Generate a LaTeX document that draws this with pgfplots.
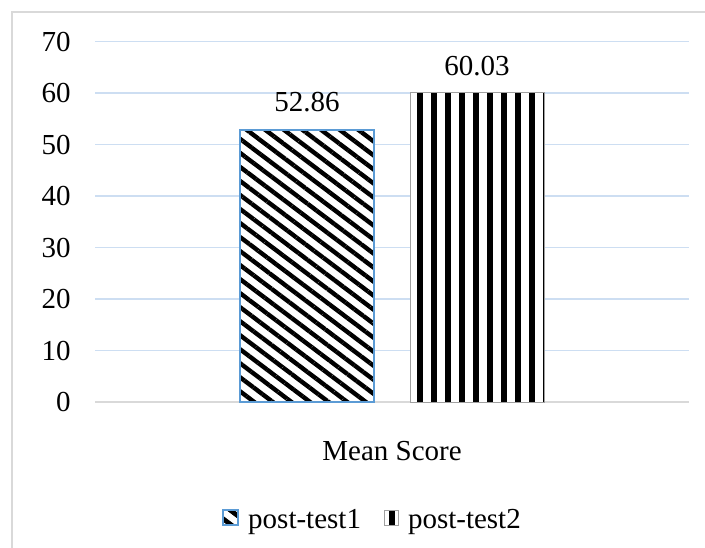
\documentclass[border=0pt]{standalone}
\usepackage{fontspec}
\setmainfont{Liberation Serif}
\usepackage{pgfplots}
\pgfplotsset{compat=1.18}
\usetikzlibrary{patterns.meta}
\definecolor{barblue}{RGB}{91,155,213}
\definecolor{gridblue}{RGB}{205,222,242}
\definecolor{framegray}{RGB}{217,217,217}
\definecolor{edgegray}{RGB}{160,160,160}
\tikzset{
  diagfill/.style={fill=white, postaction={pattern={Lines[angle=-37, distance=5.6pt, line width=2.2pt]}, pattern color=black}},
  vertfill/.style={fill=white, postaction={pattern={Lines[angle=90, distance=7pt, line width=2.6pt]}, pattern color=black}},
}
\begin{document}
\fontsize{14.5pt}{17pt}\selectfont
\begin{tikzpicture}
\clip (0,0) rectangle (352.5pt,273.5pt);
\draw[framegray, line width=0.75pt] (6pt,-10pt) rectangle (380pt,267.5pt);
\begin{axis}[
  at={(47.5pt,72.5pt)}, anchor=south west,
  scale only axis, width=297pt, height=180.25pt,
  xmin=-1, xmax=1, ymin=0, ymax=70,
  ytick={0,10,...,70},
  xtick={0}, xticklabels={Mean Score},
  axis x line*=bottom, axis y line*=left,
  axis line style={-},
  x axis line style={framegray, line width=1pt},
  y axis line style={draw=none},
  major tick length=0pt,
  ymajorgrids, grid style={gridblue, line width=0.75pt},
  yticklabel style={anchor=east, inner sep=0pt, xshift=-12pt},
  xticklabel style={anchor=base, inner sep=0pt, yshift=-29pt},
  /pgf/number format/assume math mode=true,
  ybar=18pt, bar width=67pt,
  nodes near coords={\pgfmathprintnumber[fixed,fixed zerofill,precision=2]{\pgfplotspointmeta}},
  nodes near coords style={anchor=south, inner sep=0pt, yshift=8.3pt, black},
  legend columns=2,
  legend style={at={(rel axis cs:0.4655,-0.33)}, anchor=center, draw=none, fill=none,
    inner sep=0pt, nodes={inner sep=0pt},
    /tikz/every odd column/.append style={column sep=4.5pt},
    /tikz/every even column/.append style={column sep=11.5pt}},
]
\addplot[draw=barblue, line width=1pt, diagfill,
  legend image code/.code={\draw[barblue, line width=1pt, diagfill] (0pt,-2pt) rectangle (7.5pt,5.5pt);}]
  coordinates {(0,52.86)};
\addplot[draw=edgegray, line width=0.5pt, vertfill,
  legend image code/.code={\fill[vertfill] (0pt,-2pt) rectangle (7pt,5.5pt);}]
  coordinates {(0,60.03)};
\legend{post-test1, post-test2}
\end{axis}
\end{tikzpicture}
\end{document}
